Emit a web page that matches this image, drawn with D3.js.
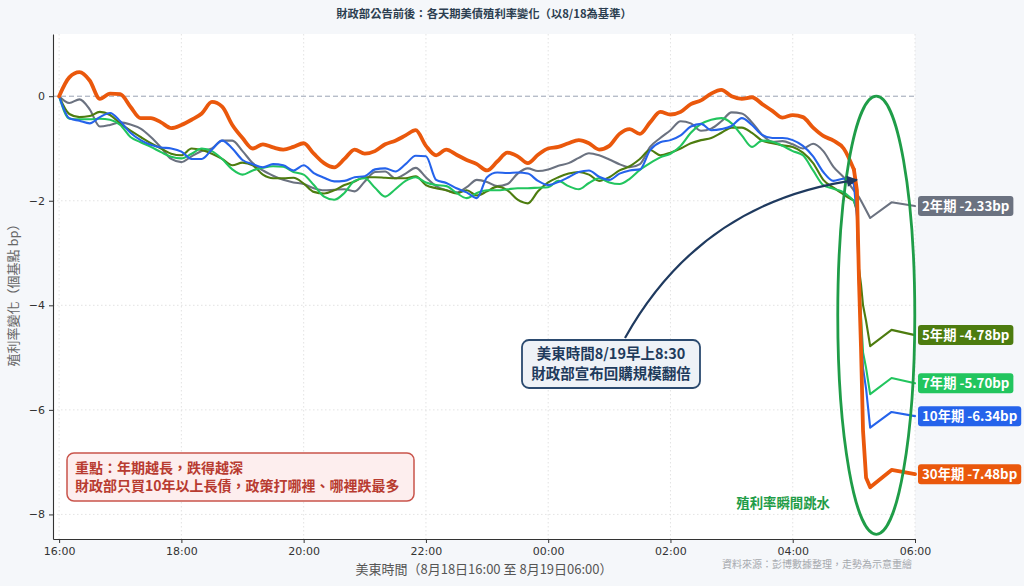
<!DOCTYPE html>
<html>
<head>
<meta charset="utf-8">
<script src="https://cdn.jsdelivr.net/npm/d3@7"></script>
<style>
  body { margin: 0; background: #f5f7fa; }
  svg { display: block; }
</style>
</head>
<body>
<div id="chart"></div>
<script>
// minutes after 8/18 16:00 (ET)
var minutes = [0, 10, 20, 30, 40, 50, 60, 70, 80, 90,
  100, 110, 120, 130, 140, 150, 160, 170, 180, 190,
  200, 210, 220, 230, 240, 250, 260, 270, 280, 290,
  300, 310, 320, 330, 340, 350, 360, 370, 380, 390,
  400, 410, 420, 430, 440, 450, 460, 470, 480, 490,
  500, 510, 520, 530, 540, 550, 560, 570, 580, 590,
  600, 610, 620, 630, 640, 650, 660, 670, 680, 690,
  700, 710, 720, 730, 740, 750, 760, 770, 780,
  783, 785, 787, 789, 792, 796, 817, 840];

// yield change vs 8/18 (bp)
var y2 = [0, -0.13, -0.06, -0.25, -0.58, -0.55, -0.50, -0.54, -0.62, -0.78,
  -0.98, -1.20, -1.26, -1.15, -1.05, -1.00, -0.85, -0.85, -1.05, -1.28,
  -1.42, -1.52, -1.60, -1.65, -1.68, -1.76, -1.80, -1.79, -1.78, -1.82,
  -1.63, -1.45, -1.44, -1.57, -1.48, -1.37, -1.55, -1.72, -1.80, -1.84,
  -1.74, -1.60, -1.64, -1.72, -1.68, -1.48, -1.38, -1.43, -1.40, -1.33,
  -1.28, -1.18, -1.09, -1.13, -1.21, -1.30, -1.36, -1.30, -0.97, -0.80,
  -0.65, -0.48, -0.52, -0.66, -0.62, -0.48, -0.31, -0.33, -0.50, -0.74,
  -0.87, -0.86, -0.92, -1.00, -0.91, -1.05, -1.35, -1.55, -1.80,
  -1.87, -1.93, -2.00, -2.07, -2.18, -2.33, -2.03, -2.10];

var y5 = [0, -0.34, -0.40, -0.38, -0.30, -0.36, -0.52, -0.66, -0.78, -0.90,
  -1.00, -1.10, -1.13, -1.00, -1.03, -1.10, -1.20, -1.32, -1.27, -1.32,
  -1.50, -1.57, -1.57, -1.56, -1.67, -1.83, -1.86, -1.80, -1.70, -1.63,
  -1.55, -1.55, -1.56, -1.57, -1.57, -1.53, -1.70, -1.76, -1.80, -1.86,
  -1.80, -1.90, -1.82, -1.73, -1.80, -1.98, -2.05, -1.82, -1.65, -1.55,
  -1.48, -1.45, -1.50, -1.62, -1.55, -1.42, -1.34, -1.20, -1.03, -1.13,
  -1.08, -1.00, -0.90, -0.84, -0.80, -0.70, -0.60, -0.60, -0.70, -0.85,
  -0.90, -0.94, -0.97, -1.08, -1.28, -1.60, -1.75, -1.88, -2.00,
  -2.20, -3.30, -3.60, -4.00, -4.30, -4.78, -4.47, -4.57];

var y7 = [0, -0.43, -0.44, -0.44, -0.43, -0.45, -0.55, -0.78, -0.88, -0.97,
  -1.07, -1.16, -1.19, -1.10, -1.00, -1.05, -1.20, -1.40, -1.50, -1.42,
  -1.37, -1.34, -1.35, -1.45, -1.50, -1.70, -1.92, -1.98, -1.85, -1.62,
  -1.57, -1.75, -1.92, -1.78, -1.62, -1.55, -1.65, -1.70, -1.72, -1.85,
  -1.95, -1.85, -1.80, -1.80, -1.78, -1.76, -1.76, -1.75, -1.74, -1.62,
  -1.72, -1.78, -1.66, -1.57, -1.65, -1.68, -1.58, -1.41, -1.28, -1.17,
  -1.10, -0.95, -0.70, -0.53, -0.45, -0.42, -0.52, -0.75, -0.97, -0.85,
  -0.87, -0.95, -1.05, -1.13, -1.42, -1.70, -1.77, -1.84, -2.00,
  -2.15, -3.50, -4.20, -4.90, -5.20, -5.70, -5.39, -5.49];

var y10 = [0, -0.42, -0.47, -0.52, -0.40, -0.32, -0.48, -0.70, -0.84, -0.93,
  -0.98, -1.00, -1.06, -1.20, -1.20, -1.02, -0.85, -1.00, -1.22, -1.30,
  -1.36, -1.30, -1.32, -1.42, -1.32, -1.47, -1.56, -1.63, -1.62, -1.55,
  -1.53, -1.40, -1.38, -1.44, -1.30, -1.14, -1.15, -1.60, -1.66, -1.76,
  -1.84, -1.95, -1.55, -1.46, -1.47, -1.46, -1.48, -1.62, -1.70, -1.64,
  -1.55, -1.45, -1.42, -1.54, -1.60, -1.48, -1.42, -1.40, -1.03, -0.88,
  -0.84, -0.75, -0.58, -0.53, -0.65, -0.63, -0.57, -0.42, -0.55, -0.74,
  -0.80, -0.80, -0.84, -0.95, -1.15, -1.45, -1.62, -1.58, -1.68,
  -2.30, -3.60, -4.50, -5.20, -5.60, -6.34, -6.04, -6.12];

var y30 = [0, 0.36, 0.46, 0.30, -0.05, 0.05, 0.04, -0.20, -0.42, -0.42,
  -0.50, -0.61, -0.55, -0.45, -0.33, -0.11, -0.20, -0.55, -0.80, -1.00,
  -0.92, -0.98, -1.02, -0.97, -0.90, -1.10, -1.28, -1.36, -1.20, -1.02,
  -1.10, -1.05, -0.92, -0.85, -0.75, -0.65, -0.95, -1.13, -1.02, -1.12,
  -1.22, -1.30, -1.42, -1.25, -1.08, -1.15, -1.28, -1.12, -1.00, -0.97,
  -0.90, -0.84, -0.90, -1.02, -0.95, -0.72, -0.63, -0.72, -0.50, -0.30,
  -0.35, -0.30, -0.15, -0.08, 0.05, 0.12, 0.00, -0.05, -0.02, -0.15,
  -0.28, -0.41, -0.36, -0.40, -0.60, -0.76, -0.85, -1.00, -1.40,
  -1.80, -3.50, -4.80, -6.40, -7.30, -7.48, -7.15, -7.23];

var seriesNames = ["2年期", "5年期", "7年期", "10年期", "30年期"];
var seriesValues = [y2, y5, y7, y10, y30];
var seriesColors = ["#6b7280", "#4d7c0f", "#22c55e", "#2563eb", "#ea580c"];
var seriesWidths = [2.1, 2.1, 2.1, 2.1, 3.8];

var xTickMinutes = [0, 120, 240, 360, 480, 600, 720, 840];
var xTickLabels = ["16:00", "18:00", "20:00", "22:00", "00:00", "02:00", "04:00", "06:00"];
var yTicks = [0, -2, -4, -6, -8];

// last smoothed point before the announcement drop
var dropIndex = 78;

var width = 1024, height = 586;
var plotLeft = 53, plotRight = 915, plotTop = 34, plotBottom = 539;
var cjk = "'Noto Sans CJK TC', 'Noto Sans', sans-serif";
var latin = "'DejaVu Sans', sans-serif";

var x = d3.scaleLinear().domain([-6, 840]).range([plotLeft, plotRight]);
var y = d3.scaleLinear().domain([-8.47, 1.19]).range([plotBottom, plotTop]);

var svg = d3.select("#chart").append("svg")
  .attr("width", width)
  .attr("height", height);

svg.append("rect").attr("width", width).attr("height", height).attr("fill", "#f5f7fa");
svg.append("rect")
  .attr("x", plotLeft).attr("y", plotTop)
  .attr("width", plotRight - plotLeft).attr("height", plotBottom - plotTop)
  .attr("fill", "#ffffff");

// grid
svg.append("g").selectAll("line")
  .data(xTickMinutes)
  .enter().append("line")
  .attr("x1", d => x(d)).attr("x2", d => x(d))
  .attr("y1", plotTop).attr("y2", plotBottom)
  .attr("stroke", "#dcdcdc").attr("stroke-width", 0.8)
  .attr("stroke-dasharray", "1.5,2.5");
svg.append("g").selectAll("line")
  .data(yTicks.filter(d => d !== 0))
  .enter().append("line")
  .attr("x1", plotLeft).attr("x2", plotRight)
  .attr("y1", d => y(d)).attr("y2", d => y(d))
  .attr("stroke", "#dcdcdc").attr("stroke-width", 0.8)
  .attr("stroke-dasharray", "1.5,2.5");

// baseline at 0
svg.append("line")
  .attr("x1", plotLeft).attr("x2", plotRight)
  .attr("y1", y(0)).attr("y2", y(0))
  .attr("stroke", "#9aa2b3").attr("stroke-width", 1)
  .attr("stroke-dasharray", "5,3");

// lines: smooth before the drop, straight segments through the drop
var smooth = d3.line()
  .x(d => x(d[0]))
  .y(d => y(d[1]))
  .curve(d3.curveMonotoneX);
var straight = d3.line()
  .x(d => x(d[0]))
  .y(d => y(d[1]));

seriesValues.forEach(function(vals, s) {
  var pts = vals.map((v, i) => [minutes[i], v]);
  [smooth(pts.slice(0, dropIndex + 1)), straight(pts.slice(dropIndex))].forEach(function(d) {
    svg.append("path")
      .attr("d", d)
      .attr("fill", "none")
      .attr("stroke", seriesColors[s])
      .attr("stroke-width", seriesWidths[s])
      .attr("stroke-linejoin", "round")
      .attr("stroke-linecap", "round");
  });
});

// axes
var xAxis = d3.axisBottom(x)
  .tickValues(xTickMinutes)
  .tickFormat((d, i) => xTickLabels[i])
  .tickSize(4).tickSizeOuter(0).tickPadding(4);
var yAxis = d3.axisLeft(y)
  .tickValues(yTicks)
  .tickFormat(d => d < 0 ? "\u2212" + Math.abs(d) : d)
  .tickSize(4).tickSizeOuter(0).tickPadding(4);

var gx = svg.append("g")
  .attr("transform", "translate(0," + plotBottom + ")")
  .call(xAxis);
var gy = svg.append("g")
  .attr("transform", "translate(" + plotLeft + ",0)")
  .call(yAxis);
[gx, gy].forEach(function(g) {
  g.select(".domain").attr("stroke", "#333").attr("stroke-width", 1.1);
  g.selectAll(".tick line").attr("stroke", "#333");
  g.selectAll(".tick text")
    .attr("fill", "#333")
    .style("font-family", latin)
    .style("font-size", "11px");
});

// title and axis labels
svg.append("text")
  .attr("x", 484).attr("y", 18)
  .attr("text-anchor", "middle")
  .style("font-family", cjk).style("font-size", "11.3px").style("font-weight", "bold")
  .attr("fill", "#2c3e50")
  .text("財政部公告前後：各天期美債殖利率變化（以8/18為基準）");

svg.append("text")
  .attr("x", (plotLeft + plotRight) / 2).attr("y", 574)
  .attr("text-anchor", "middle")
  .style("font-family", cjk).style("font-size", "13px")
  .attr("fill", "#555")
  .text("美東時間（8月18日16:00 至 8月19日06:00）");

svg.append("text")
  .attr("transform", "translate(18," + 292 + ") rotate(-90)")
  .attr("text-anchor", "middle")
  .style("font-family", cjk).style("font-size", "13px")
  .attr("fill", "#666")
  .text("殖利率變化（個基點 bp）");

svg.append("text")
  .attr("x", 912).attr("y", 568)
  .attr("text-anchor", "end")
  .style("font-family", cjk).style("font-size", "10px")
  .attr("fill", "#a6a9ae")
  .text("資料來源：彭博數據整理，走勢為示意重繪");

// ellipse around the drop
var ellCx = 802, ellCy = -4.19, ellHalfW = 37.8, ellHalfH = 4.19;
svg.append("ellipse")
  .attr("cx", x(ellCx)).attr("cy", y(ellCy))
  .attr("rx", x(ellCx + ellHalfW) - x(ellCx))
  .attr("ry", y(ellCy - ellHalfH) - y(ellCy))
  .attr("fill", "none")
  .attr("stroke", "#1f9d48").attr("stroke-width", 2.8);

svg.append("text")
  .attr("x", 830).attr("y", 508)
  .attr("text-anchor", "end")
  .style("font-family", cjk).style("font-size", "13.4px").style("font-weight", "bold")
  .attr("fill", "#1f9d48")
  .text("殖利率瞬間跳水");

// end labels
seriesValues.forEach(function(vals, s) {
  var ly = y(vals[vals.length - 1]);
  var g = svg.append("g");
  var t = g.append("text")
    .attr("x", 922).attr("y", ly + 4.8)
    .style("font-family", cjk).style("font-size", "13.3px").style("font-weight", "bold")
    .attr("fill", "#fff")
    .text(seriesNames[s] + " " + d3.min(vals).toFixed(2) + "bp");
  var w = t.node().getComputedTextLength();
  g.insert("rect", "text")
    .attr("x", 918).attr("y", ly - 10)
    .attr("width", w + 8).attr("height", 20)
    .attr("rx", 3)
    .attr("fill", seriesColors[s]);
});

// announcement arrow and box
var defs = svg.append("defs");
defs.append("marker")
  .attr("id", "head")
  .attr("viewBox", "0 0 10 10")
  .attr("refX", 9).attr("refY", 5)
  .attr("markerWidth", 6).attr("markerHeight", 5)
  .attr("markerUnits", "strokeWidth")
  .attr("orient", "auto")
  .append("path")
  .attr("d", "M0,0L10,5L0,10Z")
  .attr("fill", "#1f3a5f");

var tipX = x(783), tipY = y(-1.6);
var startX = 625, startY = 338;
var rad = 0.25;
var cx = (startX + tipX) / 2 + rad * (tipY - startY);
var cy = (startY + tipY) / 2 - rad * (tipX - startX);
svg.append("path")
  .attr("d", "M" + startX + "," + startY + "Q" + cx + "," + cy + " " + tipX + "," + tipY)
  .attr("fill", "none")
  .attr("stroke", "#1f3a5f").attr("stroke-width", 2.2)
  .attr("marker-end", "url(#head)");

svg.append("rect")
  .attr("x", 522).attr("y", 340)
  .attr("width", 178).attr("height", 48)
  .attr("rx", 7)
  .attr("fill", "#eef2f7")
  .attr("stroke", "#2b4a6f").attr("stroke-width", 1.8);
var noteLines = ["美東時間8/19早上8:30", "財政部宣布回購規模翻倍"];
svg.append("g").selectAll("text")
  .data(noteLines)
  .enter().append("text")
  .attr("x", 611).attr("y", (d, i) => 359 + i * 20)
  .attr("text-anchor", "middle")
  .style("font-family", cjk).style("font-size", "14.5px").style("font-weight", "bold")
  .attr("fill", "#1f3b5c")
  .text(d => d);

// key point box
svg.append("rect")
  .attr("x", 67).attr("y", 453)
  .attr("width", 347).attr("height", 48)
  .attr("rx", 7)
  .attr("fill", "#fdeeee")
  .attr("stroke", "#c9544b").attr("stroke-width", 1.5);
var keyLines = ["重點：年期越長，跌得越深", "財政部只買10年以上長債，政策打哪裡、哪裡跌最多"];
svg.append("g").selectAll("text")
  .data(keyLines)
  .enter().append("text")
  .attr("x", 75).attr("y", (d, i) => 473 + i * 18)
  .style("font-family", cjk).style("font-size", "14px").style("font-weight", "bold")
  .attr("fill", "#b83b30")
  .text(d => d);
</script>
</body>
</html>
